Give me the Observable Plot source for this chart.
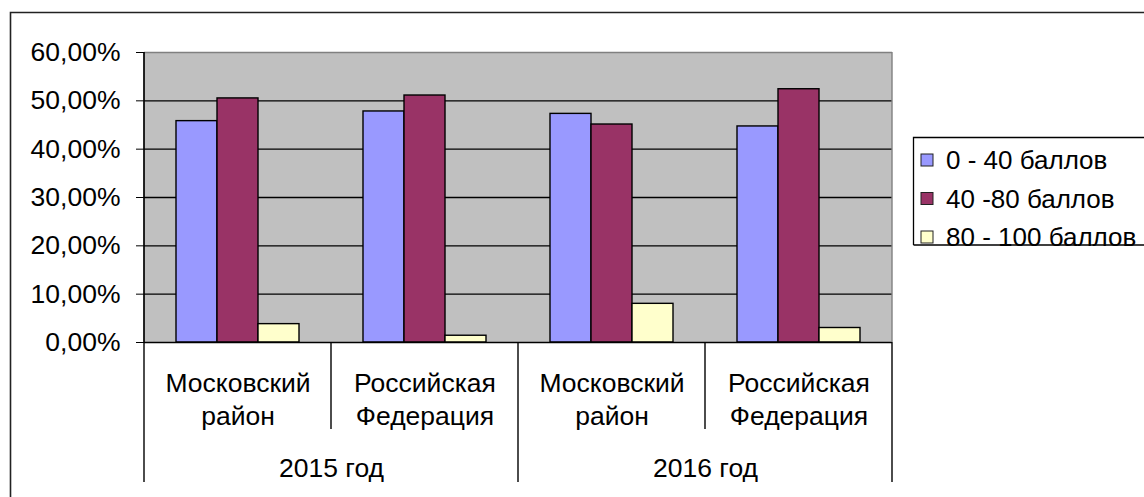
<!DOCTYPE html>
<html><head><meta charset="utf-8">
<script src="https://cdn.jsdelivr.net/npm/d3@7"></script>
<script src="https://cdn.jsdelivr.net/npm/@observablehq/plot@0.6"></script>
<style>html,body{margin:0;padding:0;background:#fff;} svg{display:block}</style>
</head><body><div id="chart"></div>
<script>
// ---- data ----
const years = ["2015 год", "2016 год"];
const regions = ["Московский\nрайон", "Российская\nФедерация"];
const series = ["0 - 40 баллов", "40 -80 баллов", "80 - 100 баллов"];
const values0to40 = [0.458, 0.478, 0.473, 0.447];
const values40to80 = [0.505, 0.511, 0.451, 0.524];
const values80to100 = [0.038, 0.014, 0.080, 0.030];
const yTicks = [0, 0.1, 0.2, 0.3, 0.4, 0.5, 0.6];
const colors = ["#9999FF", "#993366", "#FFFFCC"];

// ---- tables built from arrays ----
const groups = years.flatMap(y => regions.map(r => ({key: y + "|" + r, year: y, region: r})));
const seriesValues = [values0to40, values40to80, values80to100];
const data = groups.flatMap((g, i) => series.map((s, j) => ({group: g.key, series: s, value: seriesValues[j][i]})));
const fmt = d => (d * 100).toFixed(2).replace(".", ",") + "%";
const font = "'Liberation Sans', Arial, sans-serif";

const plot = Plot.plot({
  width: 1144, height: 497,
  marginLeft: 143, marginRight: 252, marginTop: 52, marginBottom: 155,
  style: {fontFamily: font, fontSize: "26.5px", color: "black", background: "white", overflow: "visible"},
  fx: {domain: groups.map(g => g.key), padding: 0, axis: null},
  x: {domain: series, paddingInner: 0, paddingOuter: 0.73, axis: null},
  y: {domain: [0, 0.6], ticks: yTicks, tickFormat: fmt, tickSize: 8, tickPadding: 16, label: null},
  color: {domain: series, range: colors},
  marks: [
    Plot.ruleY(yTicks.slice(1, -1), {stroke: "black", strokeWidth: 1.4}),
    Plot.ruleY([0.6], {stroke: "#808080", strokeWidth: 1.4}),
    Plot.barY(data, {fx: "group", x: "series", y: "value", fill: "series", stroke: "black", strokeWidth: 1.4}),
    Plot.ruleY([0], {stroke: "black", strokeWidth: 1.7}),
    Plot.text(groups, {fx: "key", text: "region", frameAnchor: "bottom", lineAnchor: "top", dy: 26, lineHeight: 1.25}),
    Plot.text(groups.filter((g, i) => i % regions.length === 0), {fx: "key", text: "year", frameAnchor: "bottom-right", textAnchor: "middle", lineAnchor: "middle", dy: 126})
  ]
});

// ---- plot-area background, category-axis separators, legend and chart border (using Plot's scales) ----
const svg = d3.select(plot);
const fxs = plot.scale("fx"), ys = plot.scale("y"), cs = plot.scale("color");
const keys = fxs.domain;
const edges = keys.map(k => fxs.apply(k)).concat([fxs.apply(keys[keys.length - 1]) + fxs.bandwidth]);
const xL = edges[0], xR = edges[edges.length - 1];
const yTop = ys.apply(0.6), yBot = ys.apply(0);
// background behind everything
const firstG = plot.querySelector("g");
const bg = document.createElementNS("http://www.w3.org/2000/svg", "rect");
bg.setAttribute("x", xL); bg.setAttribute("y", yTop);
bg.setAttribute("width", xR - xL); bg.setAttribute("height", yBot - yTop);
bg.setAttribute("fill", "#C0C0C0");
plot.insertBefore(bg, firstG);

const deco = svg.append("g");
// right plot-area border (gray)
deco.append("line").attr("x1", xR).attr("x2", xR)
  .attr("y1", yTop).attr("y2", yBot).attr("stroke", "#808080").attr("stroke-width", 1.4);
// left axis line
deco.append("line").attr("x1", xL).attr("x2", xL)
  .attr("y1", yTop).attr("y2", yBot).attr("stroke", "black").attr("stroke-width", 1.7);
edges.forEach((x, i) => {
  const outer = i % regions.length === 0;
  deco.append("line").attr("x1", x).attr("x2", x)
    .attr("y1", yBot).attr("y2", yBot + (outer ? 140 : 87))
    .attr("stroke", "black").attr("stroke-width", 1.4);
});
// outer chart border
deco.append("path").attr("d", "M10.5,497V12.5H1144").attr("fill", "none").attr("stroke", "#222").attr("stroke-width", 1.6);
// legend
const lg = svg.append("g").attr("transform", "translate(913,137)");
lg.append("path").attr("d", "M0.5,108V0.5H240M0.5,108H240").attr("fill", "none").attr("stroke", "black").attr("stroke-width", 1.3);
series.forEach((s, i) => {
  const cy = 23 + i * 38.5;
  lg.append("rect").attr("x", 8).attr("y", cy - 6).attr("width", 12).attr("height", 12)
    .attr("fill", cs.apply(s)).attr("stroke", "#222").attr("stroke-width", 1);
  lg.append("text").attr("x", 33).attr("y", cy).attr("dy", "0.35em").attr("text-anchor", "start")
    .attr("font-family", font).attr("font-size", 26).attr("fill", "black").text(s);
});

document.getElementById("chart").appendChild(plot);
</script>
</body></html>
